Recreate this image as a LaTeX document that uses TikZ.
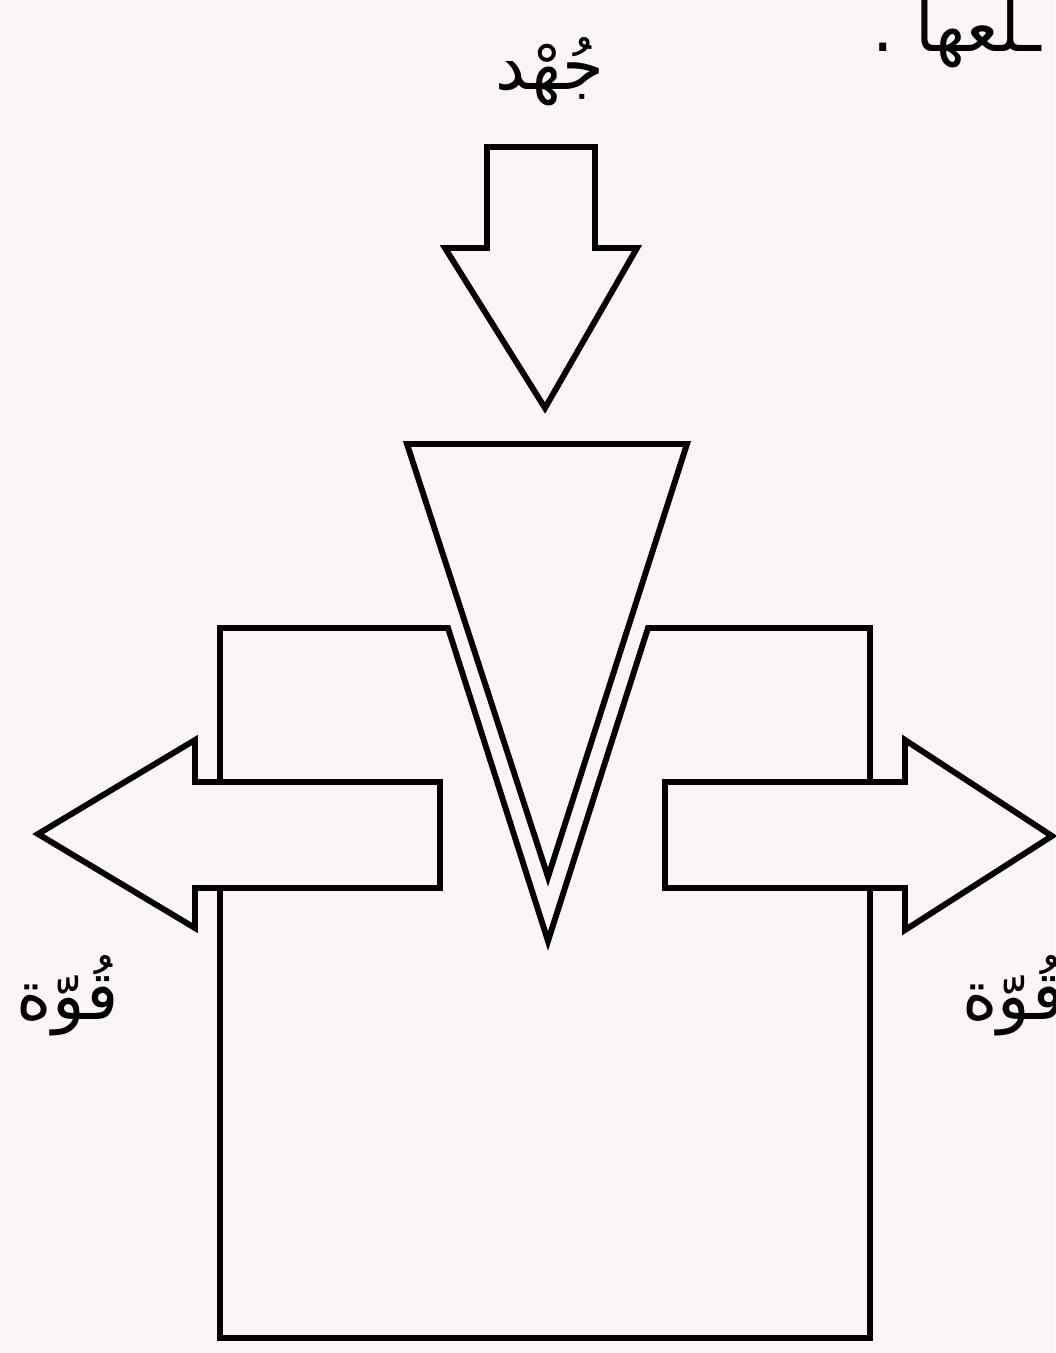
\documentclass[tikz,border=0pt]{standalone}
\usepackage{fontspec}
\newfontfamily\arabicfont[Script=Arabic]{DejaVu Sans}
\TeXXeTstate=1
\definecolor{paper}{RGB}{251,245,245}

\begin{document}
\begin{tikzpicture}[x=0.025cm,y=-0.025cm,
  outl/.style={draw=black,line width=4.2pt,fill=paper,line join=miter},
  lbl/.style={font=\arabicfont\fontsize{48}{56}\selectfont,inner sep=0pt}]
  \fill[paper] (0,0) rectangle (1055,1353);
  \useasboundingbox (0,0) rectangle (1055,1353);
  % block with the notch
  \draw[outl] (220,628) -- (448,628) -- (548,941) -- (648,628) -- (870,628) -- (870,1338) -- (220,1338) -- cycle;
  % wedge
  \draw[outl] (407,444) -- (687,444) -- (548,877) -- cycle;
  % effort arrow
  \draw[outl] (487,147) -- (595,147) -- (595,248) -- (637,248) -- (545,408) -- (445,248) -- (487,248) -- cycle;
  % force arrows
  \draw[outl] (440,782) -- (195,782) -- (195,740) -- (38,834) -- (195,928) -- (195,888) -- (440,888) -- cycle;
  \draw[outl] (665,782) -- (905,782) -- (905,740) -- (1052,836) -- (905,930) -- (905,888) -- (665,888) -- cycle;
  % labels
  \node[lbl] (juhd) at (550,72) {\beginR جُهْد\endR};
  \node[lbl] (qL) at (68,996) {\beginR قُوّة\endR};
  \node[lbl,anchor=west] (qR) at (962,996) {\beginR قُوّة\endR};
  \node[lbl,anchor=base west] (txt) at (872,52) {\beginR ـلعها .\endR};
\end{tikzpicture}
\end{document}
